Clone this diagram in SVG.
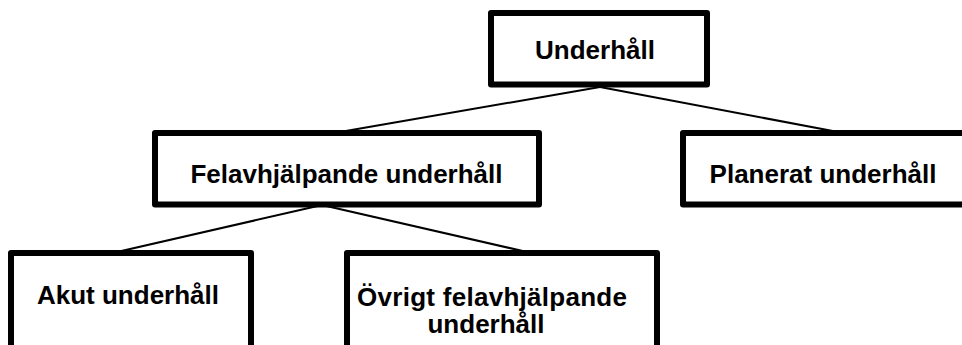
<svg xmlns="http://www.w3.org/2000/svg" width="962" height="345" viewBox="0 0 962 345">
  <style>
    .box { fill: #ffffff; stroke: #000000; stroke-width: 6; stroke-linejoin: round; }
    .lbl { font-family: "Liberation Sans", Arial, sans-serif; font-weight: bold; font-size: 26px; fill: #000000; text-anchor: middle; }
    .edge { stroke: #000000; stroke-width: 2; fill: none; }
  </style>
  <rect width="962" height="345" fill="#ffffff"/>

  <!-- connectors: drawn first so the box borders sit on top -->
  <g id="connectors">
    <line class="edge" x1="600" y1="87" x2="340" y2="132"/>
    <line class="edge" x1="600" y1="87" x2="838" y2="132"/>
    <line class="edge" x1="322" y1="205" x2="117" y2="252"/>
    <line class="edge" x1="322" y1="205" x2="527" y2="252"/>
  </g>

  <g id="underhall">
    <rect class="box" x="491" y="13" width="216" height="71.5"/>
    <text class="lbl" x="595" y="59">Underhåll</text>
  </g>

  <g id="felavhjalpande">
    <rect class="box" x="155" y="133" width="384" height="71.5"/>
    <text class="lbl" x="346.5" y="183">Felavhjälpande underhåll</text>
  </g>

  <g id="planerat">
    <rect class="box" x="683" y="133" width="300" height="71.5"/>
    <text class="lbl" x="823" y="183">Planerat underhåll</text>
  </g>

  <g id="akut">
    <rect class="box" x="11" y="253" width="240" height="120"/>
    <text class="lbl" x="128" y="304">Akut underhåll</text>
  </g>

  <g id="ovrigt">
    <rect class="box" x="347" y="253" width="310" height="120"/>
    <text class="lbl" x="492" y="306" textLength="270" lengthAdjust="spacing">Övrigt felavhjälpande</text>
    <text class="lbl" x="486" y="333">underhåll</text>
  </g>
</svg>
